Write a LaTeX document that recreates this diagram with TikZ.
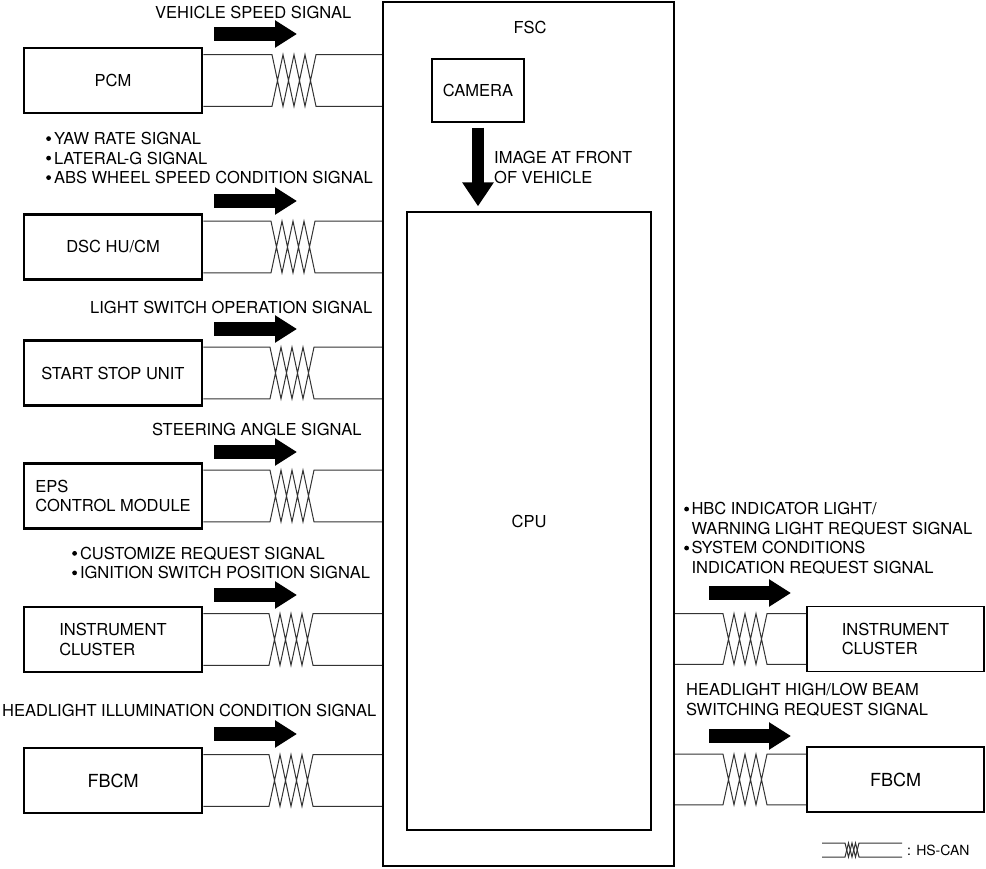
\documentclass[tikz,border=0pt]{standalone}
\usepackage{fontspec}
\setmainfont{TeX Gyre Heros}
\usetikzlibrary{arrows.meta,calc}
\newcommand\bul{\tikz[baseline=0pt]\fill (2.4pt,5.9pt) circle[radius=2.4pt];}
\newcommand\nobul{\hspace*{4.8pt}}
\newcommand\lcable[3]{%
  \draw[cable] let \p1=($(#1.north east)+(0,8)$), \p2=($(#1.south east)+(0,-8)$), \p3=(#2.west) in
    (\p1) -- (#3pt,\y1) -- (#3pt+11pt,\y2) -- (#3pt+22pt,\y1) -- (#3pt+33pt,\y2) -- (#3pt+44pt,\y1) -- (\x3,\y1)
    (\p2) -- (#3pt,\y2) -- (#3pt+11pt,\y1) -- (#3pt+22pt,\y2) -- (#3pt+33pt,\y1) -- (#3pt+44pt,\y2) -- (\x3,\y2);
}
\newcommand\rcable[3]{%
  \draw[cable] let \p1=($(#2.north west)+(0,8)$), \p2=($(#2.south west)+(0,-8)$), \p3=(#1.east) in
    (\x3,\y1) -- (#3pt,\y1) -- (#3pt+11pt,\y2) -- (#3pt+22pt,\y1) -- (#3pt+33pt,\y2) -- (#3pt+44pt,\y1) -- (\p1)
    (\x3,\y2) -- (#3pt,\y2) -- (#3pt+11pt,\y1) -- (#3pt+22pt,\y2) -- (#3pt+33pt,\y1) -- (#3pt+44pt,\y2) -- (\p2);
}
\begin{document}
\begin{tikzpicture}[x=1pt,y=-1pt,
  font=\fontsize{16.5}{19.5}\selectfont,
  lbox/.style={draw, line width=2.6pt, minimum width=178pt, minimum height=65pt, inner sep=0pt, align=left},
  rbox/.style={draw, line width=1.6pt, minimum width=177pt, minimum height=65pt, inner sep=0pt, align=left},
  thinbox/.style={draw, line width=1.3pt, inner sep=0pt},
  cable/.style={draw=black!80, line width=1pt, line join=miter},
  sig/.style={inner sep=0pt, anchor=west, align=left},
  fat/.style={line width=14pt, -{Triangle[length=22pt,width=26pt]}},
  fatdown/.style={line width=12pt, -{Triangle[length=24pt,width=30pt]}},
  big/.style={font=\fontsize{18}{21}\selectfont}]
\useasboundingbox (0,0) rectangle (986,869);

% FSC
\node[draw, line width=2.4pt, minimum width=291pt, minimum height=864pt, inner sep=0pt] (fsc) at (528.5,433.8) {};
\node[inner sep=0pt] (fsclabel) at (530,27) {FSC};
\node[thinbox, minimum width=92pt, minimum height=63pt] (camera) at (478,90.5) {CAMERA};
\node[thinbox, minimum width=244pt, minimum height=618pt] (cpu) at (529,521) {CPU};
\draw[fatdown] ($(camera.south)+(0,5)$) -- ($(camera.south |- cpu.north)+(0,-5)$);
\node[sig] (imglabel) at (494,167.5) {IMAGE AT FRONT\\OF VEHICLE};

% left modules
\node[lbox] (pcm)  at (113,80.5) {PCM};
\node[lbox] (dsc)  at (113,247) {DSC HU/CM};
\node[lbox] (ssu)  at (113,373) {START STOP UNIT};
\node[lbox] (eps)  at (113,496) {EPS\\CONTROL MODULE};
\node[lbox] (icl)  at (113,639.5) {INSTRUMENT\\CLUSTER};
\node[lbox,big] (fbl) at (113,780.5) {FBCM};

% right modules
\node[rbox] (icr) at (895.5,639) {INSTRUMENT\\CLUSTER};
\node[rbox,big] (fbr) at (895.5,779.5) {FBCM};

% cables
\lcable{pcm}{fsc}{272}
\lcable{dsc}{fsc}{271}
\lcable{ssu}{fsc}{270}
\lcable{eps}{fsc}{270}
\lcable{icl}{fsc}{269}
\lcable{fbl}{fsc}{269}
\rcable{fsc}{icr}{723}
\rcable{fsc}{fbr}{723}

% signal arrows
\draw[fat] (214,34) -- (297,34);
\draw[fat] (214,201) -- (297,201);
\draw[fat] (214,329) -- (297,329);
\draw[fat] (214,452) -- (297,452);
\draw[fat] (214,595) -- (297,595);
\draw[fat] (214,734) -- (297,734);
\draw[fat] (709,593) -- (791,593);
\draw[fat] (709,736) -- (791,736);

% signal labels
\node[sig] (s1) at (155,12) {VEHICLE SPEED SIGNAL};
\node[sig] (s2) at (46,158) {\bul\kern3pt YAW RATE SIGNAL\\\bul\kern3pt LATERAL-G SIGNAL\\\bul\kern3pt ABS WHEEL SPEED CONDITION SIGNAL};
\node[sig] (s3) at (90,307) {LIGHT SWITCH OPERATION SIGNAL};
\node[sig] (s4) at (152,429) {STEERING ANGLE SIGNAL};
\node[sig] (s5) at (72,563) {\bul\kern3pt CUSTOMIZE REQUEST SIGNAL\\\bul\kern3pt IGNITION SWITCH POSITION SIGNAL};
\node[sig] (s6) at (2,710) {HEADLIGHT ILLUMINATION CONDITION SIGNAL};
\node[sig] (s7) at (684,538.5) {\bul\kern2.5pt HBC INDICATOR LIGHT/\\\nobul\kern2.5pt WARNING LIGHT REQUEST SIGNAL\\\bul\kern2.5pt SYSTEM CONDITIONS\\\nobul\kern2.5pt INDICATION REQUEST SIGNAL};
\node[sig] (s8) at (686,700) {HEADLIGHT HIGH/LOW BEAM\\SWITCHING REQUEST SIGNAL};

% legend
\draw[cable] (822,843) -- (845,843) -- (848.5,857) -- (852,843) -- (855.5,857) -- (859,843) -- (902,843);
\draw[cable] (822,857) -- (845,857) -- (848.5,843) -- (852,857) -- (855.5,843) -- (859,857) -- (902,857);
\node[sig, font=\fontsize{14}{16}\selectfont] (legend) at (907,850) {: HS-CAN};
\end{tikzpicture}
\end{document}
